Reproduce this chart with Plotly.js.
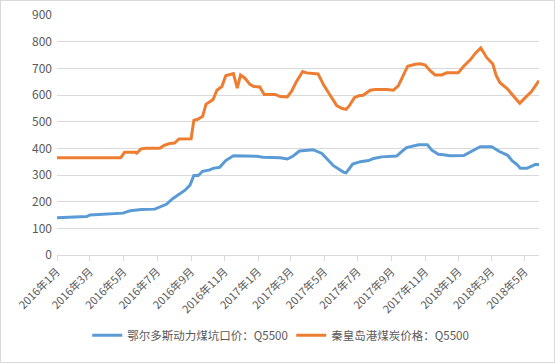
<!DOCTYPE html>
<html>
<head>
<meta charset="utf-8">
<script src="https://cdn.plot.ly/plotly-3.0.1.min.js"></script>
<style>
html,body{margin:0;padding:0;background:#fff;}
#chart{width:555px;height:363px;box-sizing:border-box;border:1px solid #d9d9d9;}
</style>
</head>
<body>
<div id="chart"></div>
<script>
// 鄂尔多斯动力煤坑口价：Q5500
const ordosDates = ["2016-01-01","2016-01-24","2016-02-24","2016-03-01","2016-03-28","2016-04-30","2016-05-13","2016-06-03","2016-06-27","2016-07-06","2016-07-18","2016-07-30","2016-08-12","2016-08-21","2016-08-30","2016-09-06","2016-09-14","2016-09-22","2016-10-05","2016-10-11","2016-10-23","2016-11-03","2016-11-17","2016-12-11","2016-12-29","2017-01-10","2017-02-10","2017-02-23","2017-03-05","2017-03-17","2017-04-11","2017-04-27","2017-05-06","2017-05-18","2017-06-05","2017-06-10","2017-06-22","2017-07-06","2017-07-21","2017-07-30","2017-08-14","2017-09-10","2017-09-19","2017-09-28","2017-10-20","2017-11-05","2017-11-13","2017-11-25","2017-12-04","2017-12-16","2018-01-10","2018-01-25","2018-02-09","2018-03-02","2018-03-16","2018-03-31","2018-04-08","2018-04-17","2018-04-23","2018-05-05","2018-05-20","2018-05-27"];
const ordosValues = [140,142,144,150,153,157,166,171,172,179,190,212,231,243,262,298,298,314,319,325,329,354,372,372,370,367,365,360,370,390,395,381,360,335,311,308,341,350,354,362,368,371,388,403,413,413,393,378,376,372,373,390,406,406,388,374,354,339,325,325,339,339];

// 秦皇岛港煤炭价格：Q5500
const qhdDates = ["2016-01-01","2016-04-26","2016-05-03","2016-05-22","2016-05-25","2016-06-02","2016-06-11","2016-07-06","2016-07-13","2016-07-24","2016-08-02","2016-08-10","2016-09-01","2016-09-06","2016-09-14","2016-09-22","2016-09-28","2016-10-11","2016-10-18","2016-10-27","2016-11-03","2016-11-12","2016-11-17","2016-11-24","2016-11-30","2016-12-08","2016-12-17","2016-12-24","2017-01-04","2017-01-12","2017-02-01","2017-02-10","2017-02-23","2017-03-03","2017-03-11","2017-03-23","2017-03-30","2017-04-20","2017-04-30","2017-05-12","2017-05-24","2017-06-02","2017-06-10","2017-06-16","2017-06-25","2017-07-03","2017-07-11","2017-07-24","2017-08-02","2017-08-23","2017-09-04","2017-09-13","2017-09-22","2017-09-30","2017-10-14","2017-10-23","2017-11-01","2017-11-10","2017-11-19","2017-12-01","2017-12-10","2017-12-31","2018-01-10","2018-01-22","2018-01-31","2018-02-10","2018-02-21","2018-03-04","2018-03-10","2018-03-17","2018-03-30","2018-04-11","2018-04-22","2018-05-02","2018-05-13","2018-05-27"];
const qhdValues = [365,365,385,385,382,398,400,400,410,418,420,435,436,505,510,520,565,583,618,632,672,677,680,626,675,663,640,632,630,602,602,594,593,614,648,688,683,679,638,599,560,550,546,560,590,597,599,618,621,621,618,634,673,708,715,717,712,691,675,675,683,683,708,732,756,777,740,716,673,646,624,593,569,590,612,654];

const tickDates = ["2016-01-01","2016-03-01","2016-05-01","2016-07-01","2016-09-01","2016-11-01","2017-01-01","2017-03-01","2017-05-01","2017-07-01","2017-09-01","2017-11-01","2018-01-01","2018-03-01","2018-05-01"];
const tickLabels = ["2016年1月","2016年3月","2016年5月","2016年7月","2016年9月","2016年11月","2017年1月","2017年3月","2017年5月","2017年7月","2017年9月","2017年11月","2018年1月","2018年3月","2018年5月"];

const seriesNames = ["鄂尔多斯动力煤坑口价：Q5500","秦皇岛港煤炭价格：Q5500"];

const FONT = "Noto Sans CJK SC, Noto Sans, sans-serif";

const data = [
  {x: ordosDates, y: ordosValues, name: seriesNames[0], type: "scatter", mode: "lines",
   line: {color: "#5b9bd5", width: 3}},
  {x: qhdDates, y: qhdValues, name: seriesNames[1], type: "scatter", mode: "lines",
   line: {color: "#ed7d31", width: 3}}
];

const layout = {
  width: 553, height: 361,
  margin: {l: 56, r: 15, t: 14, b: 103},
  paper_bgcolor: "#fff", plot_bgcolor: "#fff",
  font: {family: FONT, color: "#595959", size: 11},
  showlegend: true,
  legend: {orientation: "h", x: 0.486, xanchor: "center", y: -0.334, yanchor: "middle",
           font: {size: 11.5, color: "#595959"}, itemwidth: 30, tracegroupgap: 0,
           entrywidth: 159, entrywidthmode: "pixels"},
  xaxis: {
    type: "date",
    range: ["2016-01-01", "2018-05-27"],
    tickmode: "array", tickvals: tickDates, ticktext: tickLabels,
    tickangle: -45,
    ticks: "outside", ticklen: 5, tickcolor: "#d9d9d9",
    showline: true, linecolor: "#d9d9d9", linewidth: 1,
    showgrid: false, zeroline: false,
    tickfont: {size: 11, color: "#595959"}
  },
  yaxis: {
    range: [0, 900], dtick: 100, tick0: 0,
    showgrid: true, gridcolor: "#d9d9d9", gridwidth: 1,
    zeroline: false, showline: false, ticks: "",
    ticklabelstandoff: 4,
    tickfont: {size: 12, color: "#595959"}
  }
};

Plotly.newPlot("chart", data, layout, {displayModeBar: false, staticPlot: true});
</script>
</body>
</html>
